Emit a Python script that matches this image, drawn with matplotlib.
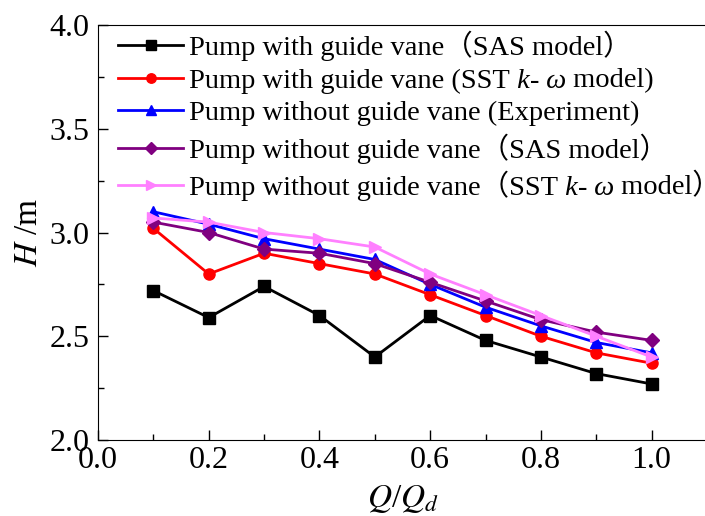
import matplotlib
matplotlib.use("Agg")
import matplotlib.pyplot as plt
from matplotlib.ticker import MultipleLocator
from matplotlib.offsetbox import TextArea, HPacker

plt.rcParams['font.family'] = ['Liberation Serif', 'Noto Sans CJK SC']
plt.rcParams['mathtext.fontset'] = 'stix'

flow = [0.1, 0.2, 0.3, 0.4, 0.5, 0.6, 0.7, 0.8, 0.9, 1.0]

gv_sas = [2.72, 2.59, 2.74, 2.60, 2.40, 2.60, 2.48, 2.40, 2.32, 2.27]
gv_sst = [3.02, 2.80, 2.90, 2.85, 2.80, 2.70, 2.60, 2.50, 2.42, 2.37]
nogv_exp = [3.10, 3.04, 2.97, 2.92, 2.87, 2.75, 2.64, 2.55, 2.47, 2.42]
nogv_sas = [3.05, 3.00, 2.92, 2.90, 2.85, 2.76, 2.67, 2.58, 2.52, 2.48]
nogv_sst = [3.07, 3.05, 3.00, 2.97, 2.93, 2.80, 2.70, 2.60, 2.50, 2.40]

labels = [
    "Pump with guide vane（SAS model）",
    "Pump with guide vane (SST k- ω model)",
    "Pump without guide vane (Experiment)",
    "Pump without guide vane（SAS model）",
    "Pump without guide vane（SST k- ω model）",
]

# pieces for the labels where k and omega are italic
styled = {
    labels[1]: [("Pump with guide vane (SST", "normal"), (" k", "italic"),
                ("-", "normal"), (" ω", "italic"), (" model)", "normal")],
    labels[4]: [("Pump without guide vane（SST", "normal"), (" k", "italic"),
                ("-", "normal"), (" ω", "italic"), (" model）", "normal")],
}

leg_fs = 20.5

fig = plt.figure(figsize=(7.05, 5.16), dpi=100)
ax = fig.add_axes([98 / 705, 76 / 516, 609 / 705, 415 / 516])

ax.plot(flow, gv_sas, color='black', marker='s', ms=8, lw=2, label=labels[0])
ax.plot(flow, gv_sst, color='red', marker='o', ms=8, lw=2, label=labels[1])
ax.plot(flow, nogv_exp, color='blue', marker='^', ms=9, lw=2, label=labels[2])
ax.plot(flow, nogv_sas, color='purple', marker='D', ms=7, lw=2, label=labels[3])
ax.plot(flow, nogv_sst, color='#ff80ff', marker='>', ms=9, lw=2, label=labels[4])

ax.set_xlim(0, 1.1)
ax.set_ylim(2.0, 4.0)
ax.xaxis.set_major_locator(MultipleLocator(0.2))
ax.xaxis.set_minor_locator(MultipleLocator(0.1))
ax.yaxis.set_major_locator(MultipleLocator(0.5))
ax.yaxis.set_minor_locator(MultipleLocator(0.25))
ax.tick_params(which='both', direction='in', top=False, right=False, labelsize=23)
ax.tick_params(which='major', length=7, width=1)
ax.tick_params(which='minor', length=4, width=1)
ax.set_xticklabels([f"{v:.1f}" for v in ax.get_xticks()])
ax.set_yticklabels([f"{v:.1f}" for v in ax.get_yticks()])
ax.tick_params(axis='x', pad=4)
ax.tick_params(axis='y', pad=6)

ax.set_xlabel("$Q$/$Q_d$", fontsize=24, labelpad=6)
ax.set_ylabel("$H$ /m", fontsize=24, labelpad=4)

leg = ax.legend(loc='upper left', bbox_to_anchor=(0.0, 1.035), frameon=False,
                fontsize=leg_fs, handlelength=2.3, handletextpad=0.2,
                labelspacing=0.24, borderaxespad=0.3, markerscale=0.85)

# swap the plain text boxes for mixed upright/italic ones
for col in leg._legend_handle_box.get_children():
    for item in col.get_children():
        kids = item.get_children()
        txt = kids[1].get_text()
        if txt in styled:
            parts = [TextArea(s, textprops=dict(fontsize=leg_fs, fontstyle=st))
                     for s, st in styled[txt]]
            box = HPacker(children=parts, align='baseline', pad=0, sep=0)
            box.set_figure(fig)
            kids[1] = box

fig.savefig("out.png", dpi=100)
